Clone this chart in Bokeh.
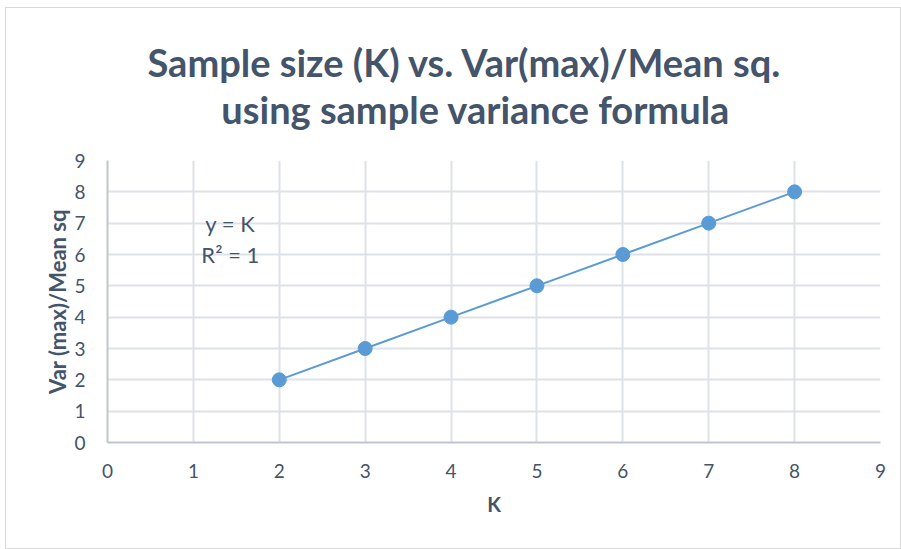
from bokeh.plotting import figure
from bokeh.models import Range1d, Label, FixedTicker
from bokeh.embed import file_html
from bokeh.resources import INLINE

k_values = [2, 3, 4, 5, 6, 7, 8]
ratio_values = [2, 3, 4, 5, 6, 7, 8]
x_ticks = [0, 1, 2, 3, 4, 5, 6, 7, 8, 9]
y_ticks = [0, 1, 2, 3, 4, 5, 6, 7, 8, 9]
title_lines = ["Sample size (K) vs. Var(max)/Mean sq.", "using sample variance formula"]

FONT = "Lato"
TXT = "#44546A"
TICK = "#44546A"

p = figure(width=896, height=542, output_backend="svg", toolbar_location=None,
           x_range=Range1d(0, 9), y_range=Range1d(0, 9),
           min_border_left=101, min_border_right=22, min_border_top=148,
           min_border_bottom=108)
p.styles = {"border": "1px solid #D9D9D9", "margin-left": "5px", "margin-top": "7px"}
p.outline_line_color = None
p.background_fill_color = "white"
p.border_fill_color = "white"

p.line(k_values, ratio_values, line_color="#5B9BD5", line_width=2)
p.scatter(k_values, ratio_values, size=14, fill_color="#5B9BD5", line_color="#5B9BD5")

for ax in (p.xaxis[0], p.yaxis[0]):
    ax.major_tick_line_color = None
    ax.minor_tick_line_color = None
    ax.major_label_text_font = FONT
    ax.major_label_text_font_size = "19px"
    ax.major_label_text_color = TICK
    ax.axis_label_text_font = FONT
    ax.axis_label_text_font_style = "bold"
    ax.axis_label_text_color = TXT
    ax.axis_line_color = "#BFC5CF"
    ax.axis_line_width = 2

p.xaxis.ticker = FixedTicker(ticks=x_ticks)
p.yaxis.ticker = FixedTicker(ticks=y_ticks)
p.xaxis.axis_label = "K"
p.yaxis.axis_label = "Var (max)/Mean sq"
p.xaxis.axis_label_text_font_size = "20px"
p.yaxis.axis_label_text_font_size = "22px"
p.xaxis.major_label_standoff = 15
p.yaxis.major_label_standoff = 16
p.xaxis.axis_label_standoff = 11
p.yaxis.axis_label_standoff = 0

p.xgrid.ticker = FixedTicker(ticks=x_ticks)
p.ygrid.ticker = FixedTicker(ticks=y_ticks)
p.grid.grid_line_color = "#DDE1E8"
p.grid.grid_line_width = 2

# two-line title; second line padded with no-break spaces so it sits centred under the first
pad = "\u00a0" * 8
p.title.text = title_lines[0] + "\n" + pad + title_lines[1]
p.title.align = "left"
p.title.offset = 40
p.title.text_font = FONT
p.title.text_font_size = "38px"
p.title.text_font_style = "bold"
p.title.text_color = TXT
p.title.text_line_height = 1.02
p.title.standoff = 57

p.add_layout(Label(x=1.43, y=7.0, text="y = K", text_align="center", text_baseline="middle",
                   text_font=FONT, text_font_size="22px", text_color=TXT))
p.add_layout(Label(x=1.43, y=6.0, text="R² = 1", text_align="center", text_baseline="middle",
                   text_font=FONT, text_font_size="22px", text_color=TXT))

open("out.html", "w").write(file_html(p, INLINE))
